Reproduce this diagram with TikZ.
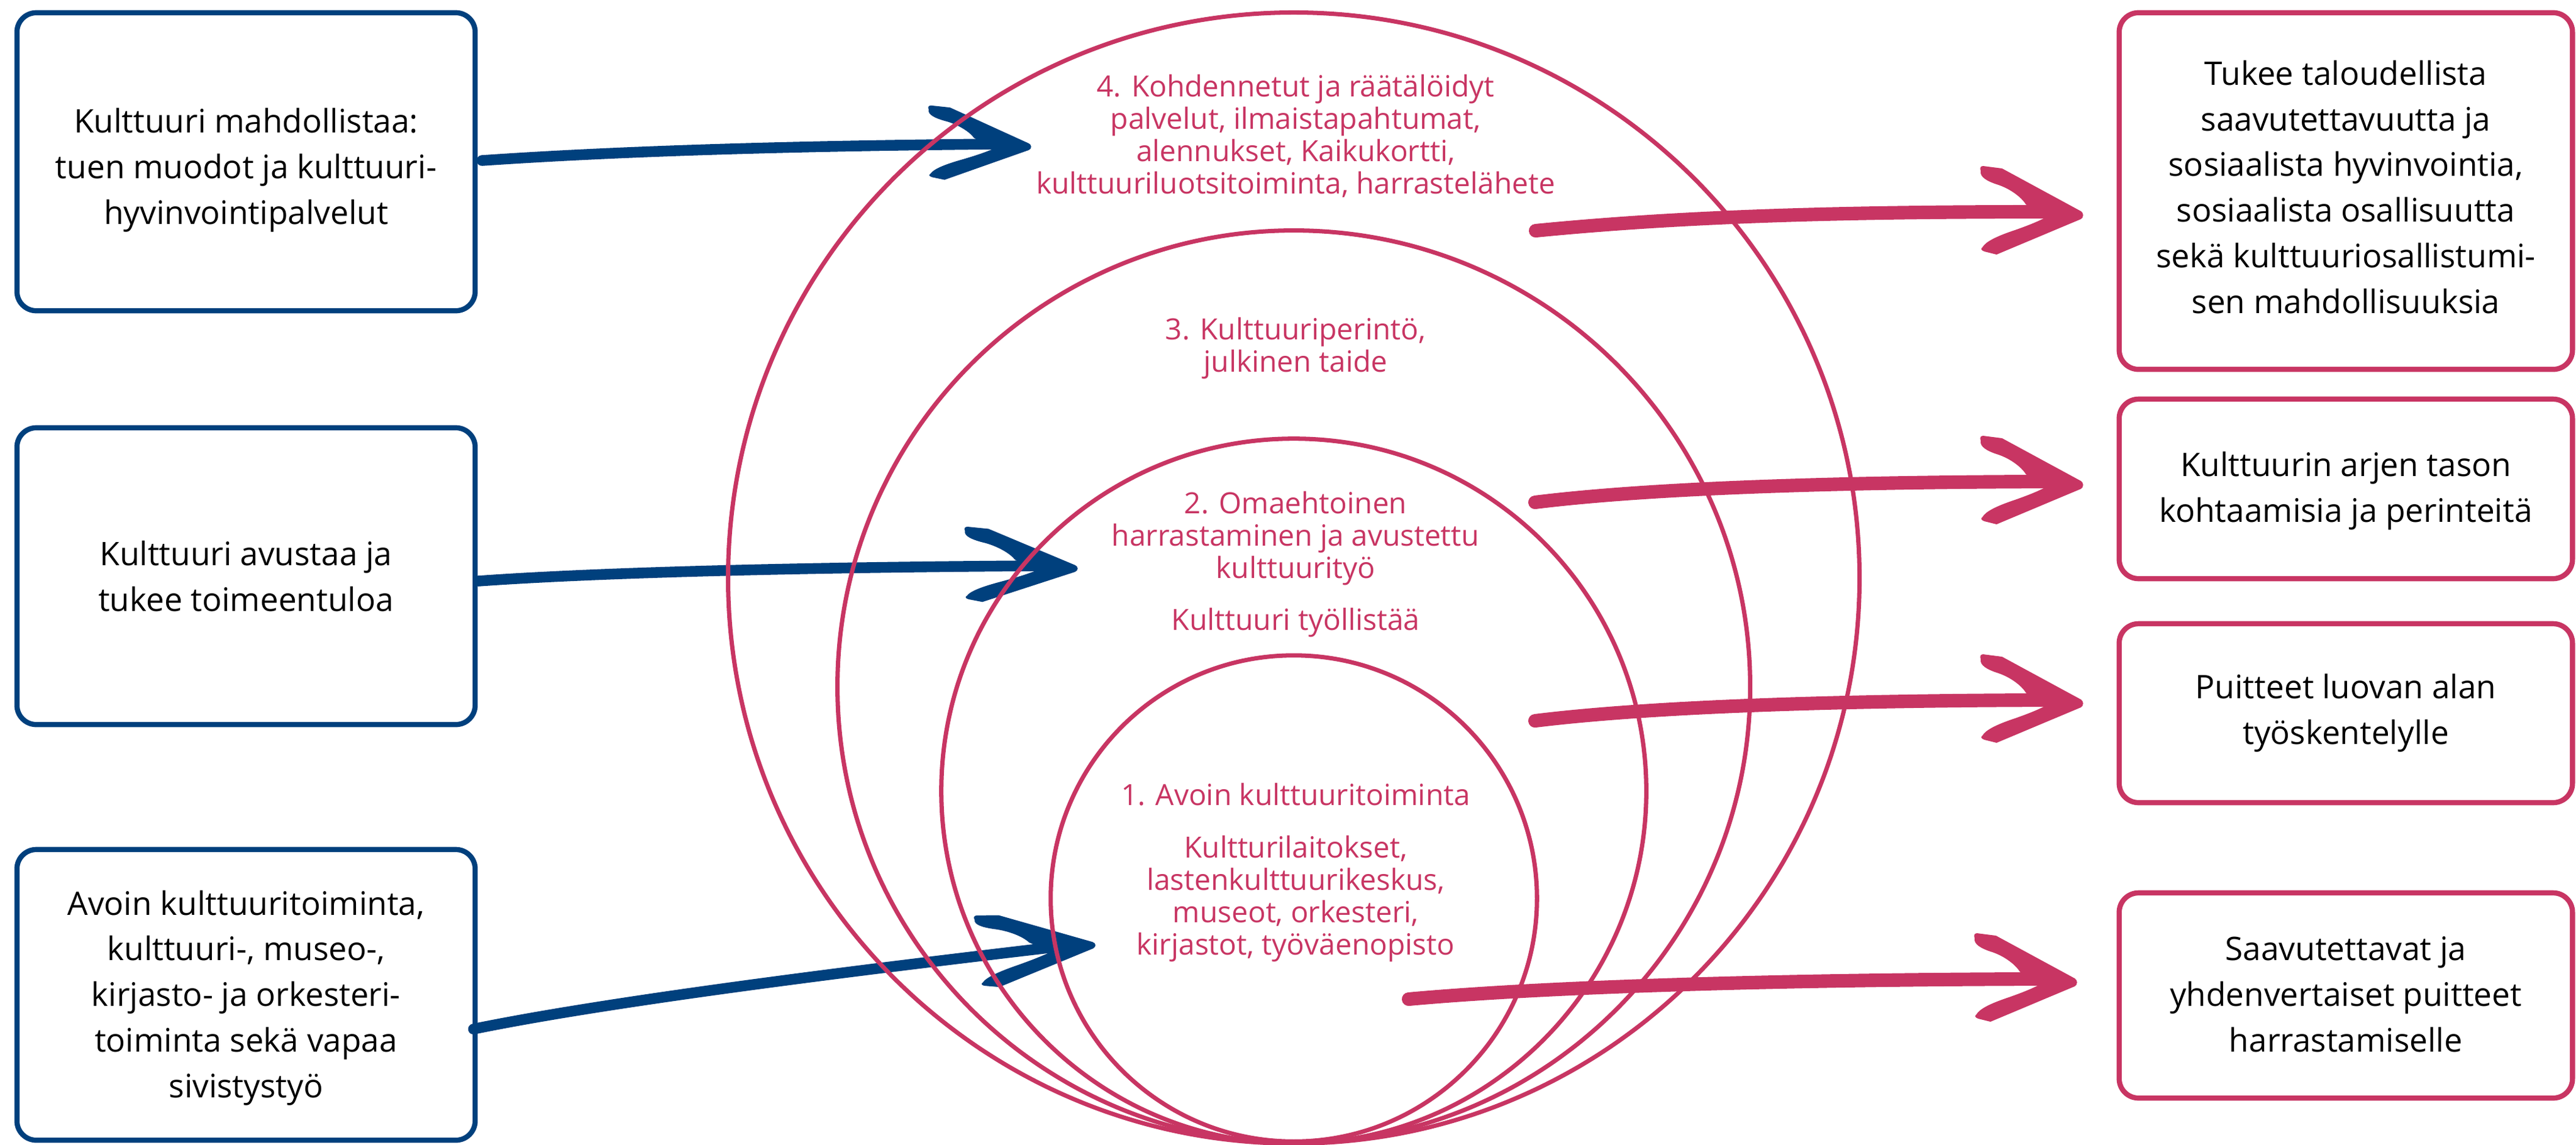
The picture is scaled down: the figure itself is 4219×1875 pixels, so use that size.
\documentclass[tikz,border=0pt]{standalone}
\usepackage{fontspec}
\setmainfont{Open Sans}
\usetikzlibrary{calc}
\definecolor{kblue}{HTML}{00407D}
\definecolor{kpink}{HTML}{C83563}
\newcommand{\brushhead}[2]{%
  \fill[#1,#2] (-162,-80) -- (-131,-76) -- (-2,-6) .. controls (3,-3) and (3,4) .. (-2,7)
    -- (-140,65) -- (-160,60) .. controls (-166,58) and (-166,55) .. (-163,53)
    .. controls (-158,44) and (-140,35) .. (-110,25)
    .. controls (-90,18) and (-75,12) .. (-63,6) -- (-70,0) -- (-92,-17)
    .. controls (-100,-30) and (-120,-44) .. (-140,-50)
    .. controls (-155,-55) and (-168,-62) .. (-166,-72)
    .. controls (-168,-77) and (-166,-80) .. (-162,-80) -- cycle;}
\begin{document}
\begin{tikzpicture}[x=0.01cm,y=-0.01cm,
  lbox/.style={draw=kblue, line width=2.4pt, rounded corners=9pt, minimum width=7.5cm, inner sep=0pt},
  rbox/.style={draw=kpink, line width=2.4pt, rounded corners=9pt, minimum width=7.42cm, inner sep=0pt},
  btext/.style={font=\fontsize{15.1pt}{21.25pt}\selectfont, align=center, inner sep=0pt, anchor=base, text=black},
  ptext/.style={font=\fontsize{13.6pt}{15.05pt}\selectfont, align=center, inner sep=0pt, anchor=base, text=kpink},
  ring/.style={circle, draw=kpink, line width=2pt, inner sep=0pt},
  bshaft/.style={draw=kblue, line width=5pt, line cap=round},
  pshaft/.style={draw=kpink, line width=6.3pt, line cap=round}]
\useasboundingbox (0,0) rectangle (4219,1875);
\fill[white] (0,0) rectangle (4219,1875);

% boxes
\node[lbox, minimum height=4.88cm] (L1) at (403,265) {};
\node[lbox, minimum height=4.86cm] (L2) at (403,944) {};
\node[lbox, minimum height=4.76cm] (L3) at (403,1630) {};
\node[rbox, minimum height=5.84cm] (R1) at (3842,313) {};
\node[rbox, minimum height=2.94cm] (R2) at (3842,801) {};
\node[rbox, minimum height=2.93cm] (R3) at (3842,1168.5) {};
\node[rbox, minimum height=3.36cm] (R4) at (3842,1631) {};

% arrow end points
\coordinate (b1tip) at (1687,240);
\coordinate (b2tip) at (1763,931);
\coordinate (b3tip) at (1792,1548);
\coordinate (p1tail) at (2515,378);
\coordinate (p2tail) at (2514,823);
\coordinate (p3tail) at (2514,1181);
\coordinate (p4tail) at (2307,1637);
\coordinate (p1tip) at (3410,352);
\coordinate (p2tip) at (3410,794);
\coordinate (p3tip) at (3410,1152);
\coordinate (p4tip) at (3400,1609);

% blue arrows
\draw[bshaft] ($(L1.east)+(7,-2)$) .. controls (950,252) and (1200,240) .. (1630,236);
\brushhead{kblue}{shift={(b1tip)}, xscale=1.0, yscale=0.84}
\draw[bshaft] ($(L2.east)+(1,8)$) .. controls (950,940) and (1250,930) .. (1700,927);
\brushhead{kblue}{shift={(b2tip)}, xscale=1.1, yscale=0.85}
\draw[bshaft] ($(L3.east)+(-7,56)$) .. controls (1000,1640) and (1400,1590) .. (1725,1552);
\brushhead{kblue}{shift={(b3tip)}, rotate=5.5, xscale=1.15, yscale=0.83}

% pink arrows
\draw[pshaft] (p1tail) .. controls (2750,355) and (3000,347) .. (3350,347);
\brushhead{kpink}{shift={(p1tip)}}
\draw[pshaft] (p2tail) .. controls (2700,800) and (3000,790) .. (3350,789);
\brushhead{kpink}{shift={(p2tip)}}
\draw[pshaft] (p3tail) .. controls (2700,1158) and (3000,1148) .. (3350,1147);
\brushhead{kpink}{shift={(p3tip)}}
\draw[pshaft] (p4tail) .. controls (2550,1615) and (2950,1605) .. (3340,1604);
\brushhead{kpink}{shift={(p4tip)}}

% circles
\node[ring, minimum size=18.52cm] (C4) at (2119,947) {};
\node[ring, minimum size=14.94cm] (C3) at (2119,1125) {};
\node[ring, minimum size=11.54cm] (C2) at (2119,1296) {};
\node[ring, minimum size=7.96cm] (C1) at (2119,1472) {};

% circle texts (anchored at the baseline of the last line)
\node[ptext] (T4) at (2122,317) {4. Kohdennetut ja räätälöidyt\\palvelut, ilmaistapahtumat,\\alennukset, Kaikukortti,\\kulttuuriluotsitoiminta, harrastelähete};
\node[ptext] (T3) at (2122,609) {3. Kulttuuriperintö,\\julkinen taide};
\node[ptext] (T2) at (2122,947) {2. Omaehtoinen\\harrastaminen ja avustettu\\kulttuurityö};
\node[ptext] (T2b) at (2122,1032) {Kulttuuri työllistää};
\node[ptext] (T1) at (2122,1319) {1. Avoin kulttuuritoiminta};
\node[ptext] (T1b) at (2122,1564) {Kultturilaitokset,\\lastenkulttuurikeskus,\\museot, orkesteri,\\kirjastot, työväenopisto};

% box texts
\node[btext] (L1t) at (403,367) {Kulttuuri mahdollistaa:\\tuen muodot ja kulttuuri-\\hyvinvointipalvelut};
\node[btext] (L2t) at (403,1001) {Kulttuuri avustaa ja\\tukee toimeentuloa};
\node[btext] (L3t) at (403,1798) {Avoin kulttuuritoiminta,\\kulttuuri-, museo-,\\kirjasto- ja orkesteri-\\toiminta sekä vapaa\\sivistystyö};
\node[btext] (R1t) at (3842,513) {Tukee taloudellista\\saavutettavuutta ja\\sosiaalista hyvinvointia,\\sosiaalista osallisuutta\\sekä kulttuuriosallistumi-\\sen mahdollisuuksia};
\node[btext] (R2t) at (3842,855) {Kulttuurin arjen tason\\kohtaamisia ja perinteitä};
\node[btext] (R3t) at (3842,1219) {Puitteet luovan alan\\työskentelylle};
\node[btext] (R4t) at (3842,1723) {Saavutettavat ja\\yhdenvertaiset puitteet\\harrastamiselle};
\end{tikzpicture}
\end{document}
